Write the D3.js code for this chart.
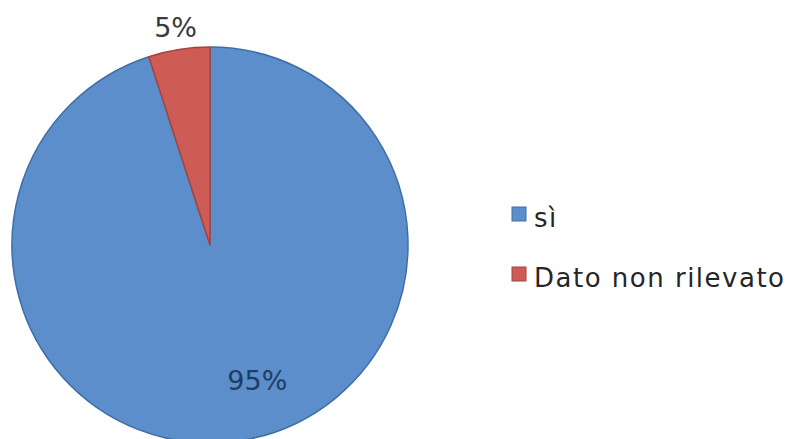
<!DOCTYPE html>
<html>
<head>
<meta charset="utf-8">
<script src="https://cdn.jsdelivr.net/npm/d3@7"></script>
<style>
  html, body { margin: 0; padding: 0; background: #ffffff; }
  svg { display: block; }
  text { font-family: "DejaVu Sans", Verdana, sans-serif; }
</style>
</head>
<body>
<svg id="chart" width="793" height="439"></svg>
<script>
// Shares of responses
const categories = ["sì", "Dato non rilevato"];
const values = [95, 5];
const labels = ["95%", "5%"];
const colors = ["#5b8ecb", "#cd5b56"];
const strokes = ["#3f6ea6", "#a8433f"];

const svg = d3.select("#chart");
const cx = 210, cy = 245, radius = 198;

const pie = d3.pie().sort(null).value(d => d)(values);
const arc = d3.arc().innerRadius(0).outerRadius(radius);

const g = svg.append("g").attr("transform", `translate(${cx},${cy})`);

g.selectAll("path.slice")
  .data(pie)
  .join("path")
  .attr("class", "slice")
  .attr("d", arc)
  .attr("fill", (d, i) => colors[i])
  .attr("stroke", (d, i) => strokes[i])
  .attr("stroke-width", 1.5)
  .attr("stroke-linejoin", "round");

// Data labels: large slice inside, small slice just outside the rim
const insideArc = d3.arc().innerRadius(radius * 0.69).outerRadius(radius * 0.69);
const outsideArc = d3.arc().innerRadius(radius + 22).outerRadius(radius + 22);

g.selectAll("text.lbl")
  .data(pie)
  .join("text")
  .attr("class", "lbl")
  .attr("transform", (d, i) => {
    const p = (i === 0 ? insideArc : outsideArc).centroid(d);
    return `translate(${p[0] + (i === 0 ? 26 : 0)},${p[1]})`;
  })
  .attr("text-anchor", "middle")
  .attr("dy", "0.36em")
  .attr("font-size", 27)
  .attr("fill", (d, i) => i === 0 ? "#1f3d63" : "#3a3a3a")
  .text((d, i) => labels[i]);

// Legend
const legend = svg.append("g").attr("transform", "translate(512,207)");
const item = legend.selectAll("g.item")
  .data(categories)
  .join("g")
  .attr("class", "item")
  .attr("transform", (d, i) => `translate(0,${i * 60})`);

item.append("rect")
  .attr("width", 14)
  .attr("height", 14)
  .attr("fill", (d, i) => colors[i])
  .attr("stroke", (d, i) => strokes[i])
  .attr("stroke-width", 1);

item.append("text")
  .attr("x", 22)
  .attr("y", 20)
  .attr("font-size", 26)
  .attr("letter-spacing", 1.5)
  .attr("fill", "#262626")
  .text(d => d);
</script>
</body>
</html>
